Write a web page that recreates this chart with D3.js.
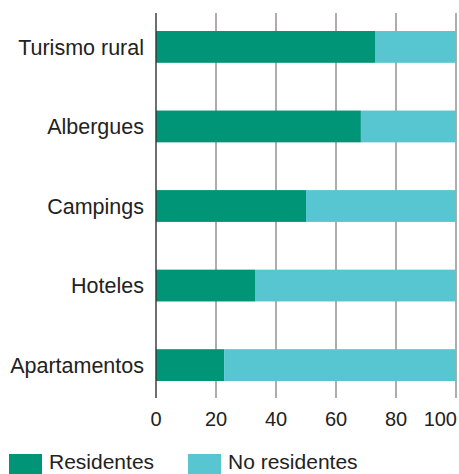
<!DOCTYPE html>
<html>
<head>
<meta charset="utf-8">
<script src="https://cdn.jsdelivr.net/npm/d3@7"></script>
<style>
  body { margin: 0; background: #fff; }
  text { font-family: "Liberation Sans", Arial, sans-serif; fill: #222; }
</style>
</head>
<body>
<svg id="chart"></svg>
<script>
  // data
  const categories = ["Turismo rural", "Albergues", "Campings", "Hoteles", "Apartamentos"];
  const residentes = [73, 68.3, 50, 33, 22.7];
  const noResidentes = residentes.map(v => 100 - v);
  const tickValues = [0, 20, 40, 60, 80, 100];
  const seriesNames = ["Residentes", "No residentes"];
  const colors = ["#009577", "#57c6d0"];

  const width = 459, height = 474;

  const svg = d3.select("#chart")
    .attr("width", width)
    .attr("height", height);

  const x = d3.scaleLinear().domain([0, 100]).range([156, 456]);
  const y = d3.scaleBand().domain(categories).range([31, 381]).paddingInner(0.6).paddingOuter(0);

  // grid lines
  svg.append("g")
    .selectAll("line")
    .data(tickValues.slice(1))
    .join("line")
    .attr("x1", d => x(d)).attr("x2", d => x(d))
    .attr("y1", 13).attr("y2", 398)
    .attr("stroke", "#8a8a8a")
    .attr("stroke-width", 1.4);

  // stacked bars
  const rows = categories.map((c, i) => ({ cat: c, Residentes: residentes[i], "No residentes": noResidentes[i] }));
  const stack = d3.stack().keys(seriesNames)(rows);

  svg.append("g")
    .selectAll("g")
    .data(stack)
    .join("g")
    .attr("fill", (d, i) => colors[i])
    .selectAll("rect")
    .data(d => d)
    .join("rect")
    .attr("x", d => x(d[0]))
    .attr("width", d => x(d[1]) - x(d[0]))
    .attr("y", d => y(d.data.cat))
    .attr("height", y.bandwidth());

  // left axis line
  svg.append("line")
    .attr("x1", x(0)).attr("x2", x(0))
    .attr("y1", 13).attr("y2", 398)
    .attr("stroke", "#333")
    .attr("stroke-width", 1.4);

  // category labels
  svg.append("g")
    .selectAll("text")
    .data(categories)
    .join("text")
    .attr("x", 144)
    .attr("y", d => y(d) + y.bandwidth() / 2)
    .attr("dy", "0.36em")
    .attr("text-anchor", "end")
    .style("font-size", "21.5px")
    .text(d => d);

  // x tick labels (last one kept inside the frame)
  svg.append("g")
    .selectAll("text")
    .data(tickValues)
    .join("text")
    .attr("x", d => d === 100 ? 457 : x(d))
    .attr("y", 426)
    .attr("text-anchor", d => d === 100 ? "end" : "middle")
    .style("font-size", "20px")
    .text(d => d);

  // legend
  const legendX = [9, 188];
  const legend = svg.append("g")
    .selectAll("g")
    .data(seriesNames)
    .join("g")
    .attr("transform", (d, i) => `translate(${legendX[i]},454)`);
  legend.append("rect")
    .attr("width", 33).attr("height", 20)
    .attr("fill", (d, i) => colors[i]);
  legend.append("text")
    .attr("x", 40)
    .attr("y", 15)
    .style("font-size", "21px")
    .text(d => d);
</script>
</body>
</html>
